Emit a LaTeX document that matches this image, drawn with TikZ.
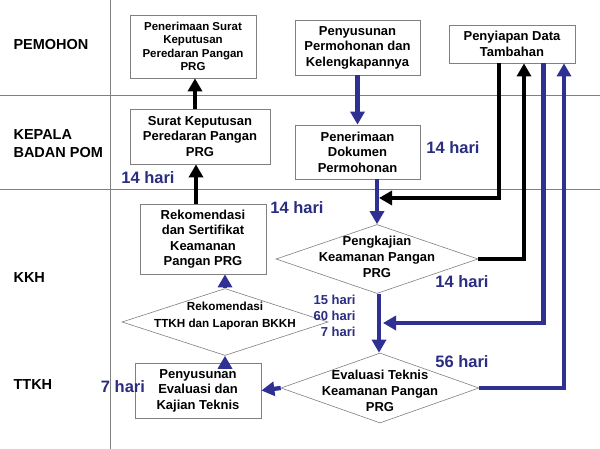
\documentclass[tikz,border=0pt]{standalone}
\usepackage{fontspec}
\setmainfont{Liberation Sans}
\usetikzlibrary{arrows.meta,shapes.geometric,calc}
\definecolor{navy}{RGB}{46,49,146}
\definecolor{lblue}{RGB}{43,45,128}
\definecolor{frame}{RGB}{128,128,128}
\begin{document}
\begin{tikzpicture}[x=1pt,y=-1pt,
  box/.style={draw=frame,line width=0.8pt,fill=white,align=center,inner sep=0pt,
    font=\bfseries\fontsize{13}{15.5}\selectfont},
  dia/.style={diamond,draw=frame,line width=0.6pt,fill=white,inner sep=0pt},
  dtext/.style={align=center,font=\bfseries\fontsize{13}{16}\selectfont},
  lane/.style={anchor=west,align=left,font=\bfseries\fontsize{14.5}{18}\selectfont},
  days/.style={text=lblue,font=\bfseries\fontsize{16.5}{19}\selectfont},
  sdays/.style={text=lblue,align=right,font=\bfseries\fontsize{13}{16}\selectfont},
  grid/.style={draw=frame,line width=0.7pt},
  blk/.style={draw=black,line width=4pt,-{Triangle[width=14pt,length=13pt]}},
  blu/.style={draw=navy,line width=4.3pt,-{Triangle[width=14pt,length=13pt]}},
  bluline/.style={draw=navy,line width=4.3pt}
]
\useasboundingbox (0,0) rectangle (600,449);
\fill[white] (0,0) rectangle (600,449);
% grid
\draw[grid] (0,95) -- (600,95);
\draw[grid] (0,189) -- (600,189);
\draw[grid] (110,0) -- (110,449);
% lane labels
\node[lane] (lp) at (10,45) {PEMOHON};
\node[lane] (lk) at (10,144) {KEPALA\\BADAN POM};
\node[lane] (lkk) at (10,278) {KKH};
\node[lane] (lt) at (10,385) {TTKH};
% boxes
\node[box,minimum width=126pt,minimum height=63pt,font=\bfseries\fontsize{11.5}{13.5}\selectfont] (b1) at (193,46.5) {Penerimaan Surat\\Keputusan\\Peredaran Pangan\\PRG};
\node[box,minimum width=140pt,minimum height=55pt] (b2) at (200,136.5) {Surat Keputusan\\Peredaran Pangan\\PRG};
\node[box,minimum width=125pt,minimum height=55pt] (b3) at (357.5,47.5) {Penyusunan\\Permohonan dan\\Kelengkapannya};
\node[box,minimum width=126pt,minimum height=38pt] (b4) at (512,44) {Penyiapan Data\\Tambahan};
\node[box,minimum width=125pt,minimum height=54pt] (b5) at (357.5,152) {Penerimaan\\Dokumen\\Permohonan};
\node[box,minimum width=126pt,minimum height=70pt] (b6) at (203,239) {Rekomendasi\\dan Sertifikat\\Keamanan\\Pangan PRG};
\node[box,minimum width=126pt,minimum height=55pt] (b9) at (198,390.5) {Penyusunan\\Evaluasi dan\\Kajian Teknis};
% diamonds
\node[dia,minimum width=202pt,minimum height=69pt] (d7) at (377,259) {};
\node[dtext] (t7) at (377,257) {Pengkajian\\Keamanan Pangan\\PRG};
\node[dia,minimum width=206pt,minimum height=67pt] (d8) at (225,322) {};
\node[dtext,font=\bfseries\fontsize{11.7}{17}\selectfont] (t8) at (225,316) {Rekomendasi\\TTKH dan Laporan BKKH};
\node[dia,minimum width=198pt,minimum height=70pt] (d10) at (380,388) {};
\node[dtext] (t10) at (380,391) {Evaluasi Teknis\\Keamanan Pangan\\PRG};
% free ends
\coordinate (j1) at (379,198);
\coordinate (j2) at (383,323);
% black arrows
\draw[blk] (b2.north -| 195,0) -- (b1.south -| 195,0);
\draw[blk] (b6.north -| 196,0) -- (b2.south -| 196,0);
\draw[blk] ([xshift=-13pt]b4.south) |- (j1);
\draw[black,line width=4pt,-{Triangle[width=14pt,length=13pt]}] (d7.east) -| ([xshift=12pt]b4.south);
% blue arrows
\draw[blu] (b3.south) -- (b5.south |- b3.south) ++(0,0) -- (b5.north -| b3.south);
\draw[blu] (b5.south -| d7.north) -- (d7.north);
\draw[blu] ([xshift=31.5pt]b4.south) |- (j2);
\draw[blu] (d10.east) -| ([xshift=52pt]b4.south);
\draw[blu] (d7.south -| 379,0) -- (d10.north -| 379,0);
\draw[blu] (d10.west) -- (b9.east);
\draw[blu] (b9.north -| d8.south) -- (d8.south);
\draw[blu] (d8.north) -- (d8.north |- b6.south);
% day labels
\node[days] (l1) at (148,178) {14 hari};
\node[days] (l2) at (453,148) {14 hari};
\node[days] (l3) at (297,208) {14 hari};
\node[days] (l4) at (462,282) {14 hari};
\node[days] (l5) at (462,362) {56 hari};
\node[days] (l6) at (123,387) {7 hari};
\node[sdays,anchor=east] (l7) at (359,316) {15 hari\\60 hari\\7 hari};
\end{tikzpicture}
\end{document}
